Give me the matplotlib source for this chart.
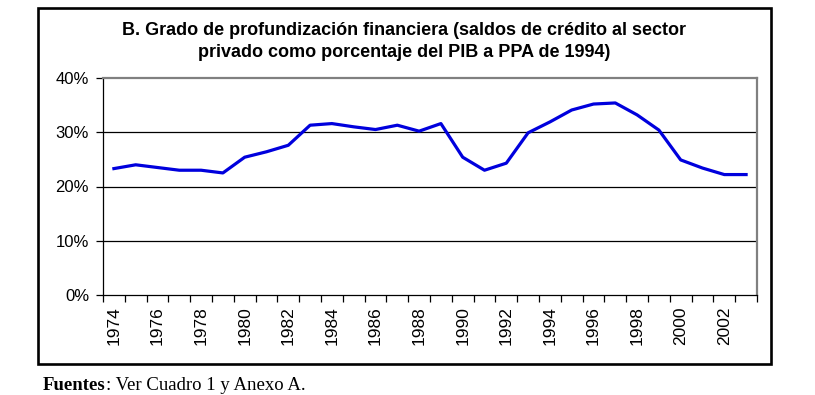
import matplotlib
matplotlib.use("Agg")
import matplotlib.pyplot as plt
from matplotlib.patches import Rectangle
from matplotlib.ticker import FixedLocator, FuncFormatter

years = list(range(1974, 2004))
values = [23.3, 24.0, 23.5, 23.0, 23.0, 22.5, 25.4, 26.4, 27.6, 31.3,
          31.6, 31.0, 30.5, 31.3, 30.2, 31.6, 25.4, 23.0, 24.3, 29.9,
          31.9, 34.1, 35.2, 35.4, 33.2, 30.4, 24.9, 23.4, 22.2, 22.2]
y_ticks = [0, 10, 20, 30, 40]
title_lines = ["B. Grado de profundización financiera (saldos de crédito al sector",
               "privado como porcentaje del PIB a PPA de 1994)"]

W, H = 815, 395
fig = plt.figure(figsize=(W / 100, H / 100), dpi=100)
fig.patch.set_facecolor("white")
SANS = ["Liberation Sans", "DejaVu Sans"]
SERIF = ["Liberation Serif", "DejaVu Serif"]

# outer box
fig.patches.append(Rectangle((38 / W, 1 - 364 / H), 733 / W, 356 / H,
                             transform=fig.transFigure, fill=False,
                             edgecolor="black", linewidth=1.9))

ax = fig.add_axes([103 / W, 1 - 295 / H, 654 / W, 217 / H])
x = list(range(len(years)))
ax.plot(x, values, color="#0000DD", linewidth=2.3, solid_joinstyle="round")
ax.set_xlim(-0.5, len(years) - 0.5)
ax.set_ylim(0, 40)

for v in y_ticks[1:-1]:
    ax.axhline(v, color="black", linewidth=0.9, zorder=0)

ax.set_yticks(y_ticks)
ax.yaxis.set_major_formatter(FuncFormatter(lambda v, p: f"{int(v)}%"))
ax.tick_params(axis="y", direction="out", length=5, width=0.9, pad=5,
               labelsize=12, colors="black")

# x-axis: labels on even years, tick marks between categories
ax.set_xticks(x[::2])
ax.set_xticklabels([str(y) for y in years[::2]], rotation=90, fontsize=12.5)
ax.tick_params(axis="x", which="major", length=0, pad=8)
ax.xaxis.set_minor_locator(FixedLocator([i - 0.5 for i in range(len(years) + 1)]))
ax.tick_params(axis="x", which="minor", direction="out", length=5, width=0.9)

for s in ["left", "bottom"]:
    ax.spines[s].set_color("black")
    ax.spines[s].set_linewidth(0.9)
for s in ["top", "right"]:
    ax.spines[s].set_color("#808080")
    ax.spines[s].set_linewidth(1.6)

for lbl in ax.get_xticklabels() + ax.get_yticklabels():
    lbl.set_family(SANS)

fig.text(404 / W, 1 - 35 / H, title_lines[0], ha="center", va="baseline",
         fontsize=13, fontweight="bold", family=SANS)
fig.text(404 / W, 1 - 57 / H, title_lines[1], ha="center", va="baseline",
         fontsize=13, fontweight="bold", family=SANS)

# footnote
t1 = fig.text(43 / W, 1 - 390 / H, "Fuentes", ha="left", va="baseline",
              fontsize=13.5, fontweight="bold", family=SERIF)
renderer = fig.canvas.get_renderer()
bb = t1.get_window_extent(renderer=renderer)
fig.text(bb.x1 / W, 1 - 390 / H, ": Ver Cuadro 1 y Anexo A.", ha="left", va="baseline",
         fontsize=13.5, family=SERIF)

fig.savefig("out.png", dpi=100, facecolor="white")
